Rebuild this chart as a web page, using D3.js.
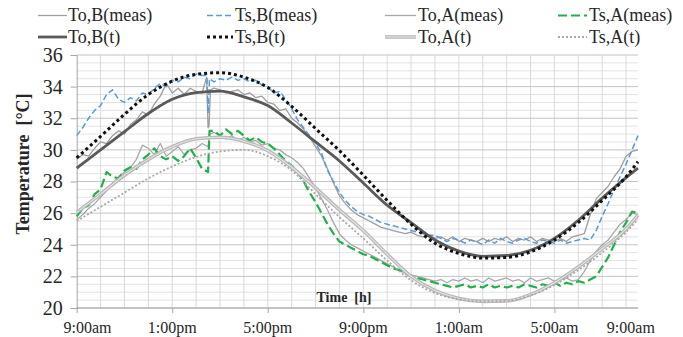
<!DOCTYPE html>
<html><head><meta charset="utf-8">
<script src="https://cdn.jsdelivr.net/npm/d3@7/dist/d3.min.js"></script>
<style>
html,body{margin:0;padding:0;background:#fff;}
svg{display:block;font-family:"Liberation Serif","Times New Roman",serif;}
</style></head>
<body><svg id="c" width="683" height="337"></svg>
<script>
// ---- data ----
const measStep = 0.25; // hours between measured samples (9:00am = 0 h)
const theoHours = [0,1,2,3,4,5,6,7,8,9,10,11,12,13,14,15,16,17,18,19,20,21,22,23,23.5];
const toBTheo = [28.85,30.0,31.15,32.3,33.2,33.62,33.72,33.35,32.8,31.7,30.5,29.3,27.9,26.5,25.4,24.3,23.6,23.27,23.32,23.65,24.4,25.55,26.95,28.25,28.85];
const tsBTheo = [29.5,30.85,32.25,33.5,34.35,34.78,34.88,34.6,33.95,32.75,31.35,29.95,28.4,26.8,25.3,24.1,23.45,23.16,23.2,23.55,24.3,25.4,26.8,28.3,29.25];
const toATheo = [26.05,27.2,28.4,29.4,30.2,30.7,30.8,30.55,29.95,28.9,27.6,26.2,24.9,23.4,22.0,21.1,20.6,20.42,20.45,20.85,21.6,22.6,23.75,25.0,25.88];
const tsATheo = [25.5,26.4,27.3,28.2,28.95,29.55,29.9,30.0,29.6,28.7,27.2,25.75,24.4,23.0,21.75,20.95,20.55,20.42,20.45,20.8,21.45,22.4,23.5,24.8,25.6];

const toBMeas = [29.4,29.7,29.6,30.1,30.5,30.4,30.9,31.2,31.0,31.6,31.9,32.4,32.2,32.9,33.4,34.2,33.6,33.9,33.5,33.9,33.7,33.6,31.4,33.9,
 33.8,33.6,33.7,33.8,33.5,33.6,33.3,33.4,33.0,32.9,32.5,32.6,32.0,31.7,31.3,30.8,30.2,29.6,28.8,27.9,27.1,26.6,26.2,25.9,
 25.7,25.5,25.3,25.1,25.0,24.9,24.8,24.7,24.8,24.6,24.5,24.6,24.4,24.5,24.3,24.5,24.2,24.4,24.3,24.2,24.4,24.2,24.4,24.3,
 24.5,24.2,24.4,24.3,24.5,24.2,24.4,24.3,24.2,24.4,24.2,24.5,24.6,24.7,25.9,26.9,27.3,27.7,28.3,28.8,29.6,29.9,30.0];
const tsBMeas = [30.9,31.4,32.0,32.5,32.8,33.5,33.8,33.2,33.0,33.3,33.1,33.6,33.5,33.9,34.2,34.0,34.4,34.3,34.6,34.5,34.8,34.7,32.3,34.3,
 34.5,34.4,34.6,34.4,34.5,34.3,34.4,34.1,34.0,33.6,33.7,33.2,32.6,31.9,31.4,30.9,30.4,29.8,28.7,28.0,27.3,26.8,26.4,26.1,
 25.9,25.8,25.6,25.4,25.3,25.2,25.1,25.0,24.9,24.8,24.7,24.6,24.6,24.4,24.2,24.4,24.3,24.1,24.3,24.2,24.0,24.3,24.1,24.4,
 24.2,24.1,24.3,24.4,24.2,24.1,24.3,24.2,24.1,24.3,24.1,24.2,24.3,24.4,24.3,24.9,25.8,26.6,27.5,28.3,29.1,30.0,30.9];
const toAMeas = [25.6,25.9,26.3,26.6,27.0,27.4,27.9,28.3,28.6,28.9,29.4,30.3,30.1,29.7,30.4,29.6,29.9,30.2,29.7,30.0,30.1,30.4,30.2,31.1,
 30.9,30.7,30.9,30.6,30.8,30.5,30.6,30.3,30.4,30.1,30.0,29.7,29.5,29.2,28.8,28.2,27.6,26.9,26.2,25.4,24.7,24.3,24.0,23.8,
 23.6,23.4,23.2,23.0,22.8,22.6,22.4,22.2,22.1,22.0,21.9,21.8,21.7,21.8,21.6,21.8,21.7,21.9,21.7,21.8,21.6,21.9,21.7,21.8,
 21.9,21.7,21.8,21.6,21.9,21.7,21.8,21.9,21.7,21.8,21.9,21.7,21.8,22.3,23.0,23.6,24.0,24.3,24.8,25.3,25.6,26.0,25.9];
const tsAMeas = [25.8,26.3,26.5,27.2,27.5,28.6,28.3,28.2,28.7,28.9,28.8,29.4,29.7,30.1,29.6,29.4,29.6,29.3,29.6,30.1,29.5,28.8,28.6,31.2,
 30.9,31.3,31.0,31.2,30.9,30.6,30.8,30.5,30.4,30.1,29.7,29.3,29.0,28.6,28.0,27.3,26.7,26.0,25.3,24.7,24.2,24.0,23.8,23.6,
 23.4,23.3,23.1,22.9,22.7,22.5,22.4,22.2,22.0,21.9,21.8,21.7,21.6,21.5,21.4,21.3,21.4,21.5,21.3,21.4,21.3,21.5,21.3,21.4,
 21.3,21.4,21.3,21.5,21.4,21.3,21.5,21.4,21.6,21.4,21.6,21.5,21.7,21.6,21.8,22.0,22.6,23.2,24.0,24.8,25.4,26.1,26.0];
// extra samples around the short transient near 2:30pm ([hour, value])
const toBSpike = [[5.44,34.6],[5.54,31.5],[5.6,33.8]];
const tsBSpike = [[5.45,34.7],[5.56,34.5]];
const toASpike = [[5.56,31.0]];
const tsASpike = [[5.56,31.2]];

const yTicks = [20,22,24,26,28,30,32,34,36];
const xTickHours = [0,4,8,12,16,20];
const xTickLabels = ["9:00am","1:00pm","5:00pm","9:00pm","1:00am","5:00am","9:00am"];
const xLabelHours = [0.45,4,8,12,16,20,23.2];

const legendNames = ["To,B(meas)","Ts,B(meas)","To,A(meas)","Ts,A(meas)","To,B(t)","Ts,B(t)","To,A(t)","Ts,A(t)"];

// ---- chart ----
const svg = d3.select("#c");
const x = d3.scaleLinear().domain([0,23.5]).range([76.7,638]);
const y = d3.scaleLinear().domain([20,36]).range([308,55]);

const grid = svg.append("g");
d3.range(20,36.01,0.5).filter(v=>v%2!==0).forEach(v=>{
  grid.append("line").attr("x1",x(0)).attr("x2",x(23.5)).attr("y1",y(v)).attr("y2",y(v))
    .attr("stroke","#e3e3e3").attr("stroke-width",1);
});
d3.range(1,23.5,1).forEach(h=>{
  grid.append("line").attr("x1",x(h)).attr("x2",x(h)).attr("y1",y(36)).attr("y2",y(20))
    .attr("stroke","#dadada").attr("stroke-width",1);
});
yTicks.forEach(v=>{
  grid.append("line").attr("x1",x(0)).attr("x2",x(23.5)).attr("y1",y(v)).attr("y2",y(v))
    .attr("stroke","#c4c4c4").attr("stroke-width",1);
});

const yAxis = svg.append("g").attr("transform",`translate(${x(0)},0)`)
  .call(d3.axisLeft(y).tickValues(yTicks).tickSize(6).tickPadding(8).tickFormat(d3.format("d")));
yAxis.select(".domain").attr("stroke","#a6a6a6");
yAxis.selectAll(".tick line").attr("stroke","#a6a6a6");
yAxis.selectAll("text").attr("font-size",20).attr("fill","#262626").attr("font-family","Liberation Serif");

const xAxis = svg.append("g").attr("transform",`translate(0,${y(20)})`)
  .call(d3.axisBottom(x).tickValues(xTickHours).tickSize(5).tickFormat(""));
xAxis.select(".domain").attr("stroke","#a6a6a6").attr("d",`M${x(0)},0H${x(23.5)}`);
xAxis.selectAll(".tick line").attr("stroke","#a6a6a6");

const xl = svg.append("g");
xTickLabels.forEach((t,i)=>{
  xl.append("text").attr("x",x(xLabelHours[i])).attr("y",333).attr("text-anchor","middle")
    .attr("font-size",16).attr("fill","#262626").text(t);
});

svg.append("text").attr("transform","translate(29,164) rotate(-90)").attr("text-anchor","middle")
  .attr("font-size",18).attr("font-weight","bold").attr("fill","#262626").style("white-space","pre")
  .text("Temperature  [°C]");
svg.append("text").attr("x",344).attr("y",302).attr("text-anchor","middle")
  .attr("font-size",14).attr("font-weight","bold").attr("fill","#262626").style("white-space","pre")
  .text("Time  [h]");

function measPts(vals, extra){
  const pts = vals.map((v,i)=>[i*measStep, v]).concat(extra);
  return pts.sort((a,b)=>a[0]-b[0]);
}
const lineLin = d3.line().x(d=>x(d[0])).y(d=>y(d[1]));
const lineSmooth = d3.line().x(d=>x(d[0])).y(d=>y(d[1])).curve(d3.curveMonotoneX);
const theo = vals => vals.map((v,i)=>[theoHours[i], v]);

const styles = {
  toBMeas:{stroke:"#9e9e9e", w:1.3, dash:null},
  tsBMeas:{stroke:"#5b9bd5", w:1.5, dash:"6,3"},
  toAMeas:{stroke:"#a8a8a8", w:1.3, dash:null},
  tsAMeas:{stroke:"#21b04b", w:2.2, dash:"9,4"},
  toBTheo:{stroke:"#5a5a5a", w:2.8, dash:null},
  tsBTheo:{stroke:"#111111", w:3, dash:"3,3"},
  toATheo:{stroke:"#b8b8b8", w:3.6, dash:null},
  tsATheo:{stroke:"#a9a9a9", w:1.8, dash:"2,2"}
};
const plot = svg.append("g");
function draw(pts, st, gen){
  const p = plot.append("path").attr("d",gen(pts)).attr("fill","none")
    .attr("stroke",st.stroke).attr("stroke-width",st.w).attr("stroke-linejoin","round");
  if(st.dash) p.attr("stroke-dasharray",st.dash);
  return p;
}
draw(measPts(toBMeas,toBSpike), styles.toBMeas, lineLin);
draw(measPts(tsBMeas,tsBSpike), styles.tsBMeas, lineLin);
draw(measPts(toAMeas,toASpike), styles.toAMeas, lineLin);
draw(measPts(tsAMeas,tsASpike), styles.tsAMeas, lineLin);
draw(theo(toBTheo), styles.toBTheo, lineSmooth);
draw(theo(tsBTheo), styles.tsBTheo, lineSmooth);
draw(theo(toATheo), styles.toATheo, lineSmooth);
draw(theo(toATheo), {stroke:"#e4e4e4", w:1.1, dash:null}, lineSmooth);
draw(theo(tsATheo), styles.tsATheo, lineSmooth);

const legKeys = ["toBMeas","tsBMeas","toAMeas","tsAMeas","toBTheo","tsBTheo","toATheo","tsATheo"];
const colX = [[38,67,68],[207,233,235],[385,416,418],[558,587,589]];
const rowY = [[15.5,20.5],[37,43]];
legKeys.forEach((k,i)=>{
  const c = colX[i%4], r = rowY[Math.floor(i/4)], st = styles[k];
  const l = svg.append("line").attr("x1",c[0]).attr("x2",c[1]).attr("y1",r[0]).attr("y2",r[0])
    .attr("stroke",st.stroke).attr("stroke-width",st.w);
  if(st.dash) l.attr("stroke-dasharray",st.dash);
  if(k==="toATheo") svg.append("line").attr("x1",c[0]).attr("x2",c[1]).attr("y1",r[0]).attr("y2",r[0])
    .attr("stroke","#e4e4e4").attr("stroke-width",1.1);
  svg.append("text").attr("x",c[2]).attr("y",r[1]).attr("font-size",18).attr("fill","#262626").text(legendNames[i]);
});
</script></body></html>
